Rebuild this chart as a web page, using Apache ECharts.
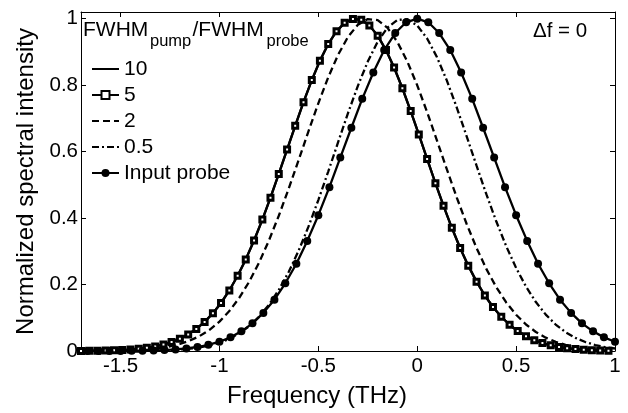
<!DOCTYPE html>
<html><head><meta charset="utf-8">
<script src="https://cdn.jsdelivr.net/npm/echarts@6/dist/echarts.min.js"></script>
<style>html,body{margin:0;padding:0;background:#fff}#c{width:628px;height:413px}</style>
</head><body><div id="c"></div>
<script>
const xTicks = [-1.5, -1, -0.5, 0, 0.5, 1];
const yTicks = [0, 0.2, 0.4, 0.6, 0.8, 1];
const legendNames = ['10', '5', '2', '0.5', 'Input probe'];

const xLine = [-1.7,-1.65,-1.6,-1.55,-1.5,-1.45,-1.4,-1.35,-1.3,-1.25,-1.2,-1.15,-1.1,-1.05,-1,
  -0.95,-0.9,-0.85,-0.8,-0.75,-0.7,-0.65,-0.6,-0.55,-0.5,-0.45,-0.4,-0.35,-0.3,-0.25,-0.2,-0.15,-0.1,-0.05,0,
  0.05,0.1,0.15,0.2,0.25,0.3,0.35,0.4,0.45,0.5,0.55,0.6,0.65,0.7,0.75,0.8,0.85,0.9,0.95,1];

const xPump5 = [-1.700,-1.658,-1.617,-1.575,-1.533,-1.492,-1.450,-1.408,-1.367,-1.325,
  -1.283,-1.242,-1.200,-1.158,-1.117,-1.075,-1.033,-0.992,-0.950,-0.908,
  -0.867,-0.825,-0.783,-0.742,-0.700,-0.658,-0.617,-0.575,-0.533,-0.492,
  -0.450,-0.408,-0.367,-0.325,-0.283,-0.242,-0.200,-0.158,-0.117,-0.075,
  -0.033,0.008,0.050,0.092,0.133,0.175,0.217,0.258,0.300,0.342,
  0.383,0.425,0.467,0.508,0.550,0.592,0.633,0.675,0.717,0.758,
  0.800,0.842,0.883,0.925,0.967];

const pump5 = [0.0003,0.0005,0.0008,0.0013,0.002,0.003,0.0044,0.0066,0.0095,0.0137,
  0.0194,0.0268,0.0369,0.05,0.0665,0.0875,0.1136,0.1444,0.1821,0.2263,
  0.2756,0.3325,0.3953,0.4613,0.5327,0.606,0.6776,0.7487,0.8151,0.8732,
  0.9234,0.9622,0.9874,0.9993,0.9965,0.9797,0.9489,0.9055,0.8529,0.7906,
  0.722,0.6515,0.5779,0.5051,0.4367,0.3707,0.3101,0.2568,0.2087,0.167,
  0.1325,0.103,0.079,0.06,0.0446,0.0327,0.0238,0.017,0.0119,0.0083,
  0.0057,0.0038,0.0025,0.0017,0.0011];

const pump10 = [0.0003,0.0005,0.0008,0.0013,0.002,0.003,0.0044,0.0066,0.0095,0.0137,
  0.0194,0.0268,0.0369,0.05,0.0665,0.0875,0.1136,0.1444,0.1821,0.2263,
  0.2756,0.3325,0.3953,0.4613,0.5327,0.606,0.6776,0.7487,0.8151,0.8732,
  0.9234,0.9622,0.9874,0.9993,0.9965,0.9797,0.9489,0.9055,0.8529,0.7906,
  0.722,0.6515,0.5779,0.5051,0.4367,0.3707,0.3101,0.2568,0.2087,0.167,
  0.1325,0.103,0.079,0.06,0.0446,0.0327,0.0238,0.017,0.0119,0.0083,
  0.0057,0.0038,0.0025,0.0017,0.0011];

const pump2 = [0.0001,0.0003,0.0005,0.0008,0.0013,0.0022,0.0036,0.0058,0.0091,0.0141,0.0212,0.0312,0.0451,0.0638,0.0884,
  0.1201,0.1597,0.2081,0.2657,0.3322,0.4069,0.4882,0.5738,0.6608,0.7453,
  0.8235,0.8914,0.9451,0.9817,0.9988,0.9955,0.972,0.9297,0.871,0.7995,
  0.7188,0.633,0.5462,0.4616,0.3822,0.31,0.2463,0.1917,0.1461,0.1091,
  0.0798,0.0572,0.0402,0.0276,0.0186,0.0123,0.0079,0.005,0.0031,0.0019];

const pump05 = [0,0,0,0.0001,0.0002,0.0003,0.0005,0.0009,0.0016,0.0026,0.0043,0.0069,0.0108,0.0166,0.0249,
  0.0367,0.0529,0.0745,0.1029,0.139,0.1838,0.2379,0.3015,0.3741,0.4542,
  0.5399,0.6283,0.7157,0.7979,0.8708,0.9304,0.9731,0.9962,0.9983,0.9793,
  0.9404,0.884,0.8134,0.7326,0.646,0.5575,0.471,0.3895,0.3153,0.2499,
  0.1938,0.1472,0.1094,0.0796,0.0567,0.0395,0.027,0.018,0.0118,0.0075];

const xProbe = [-1.667,-1.611,-1.556,-1.5,-1.444,-1.389,-1.333,-1.278,-1.222,-1.167,
  -1.111,-1.056,-1,-0.944,-0.889,-0.833,-0.778,-0.722,-0.667,-0.611,
  -0.556,-0.5,-0.444,-0.389,-0.333,-0.278,-0.222,-0.167,-0.111,-0.056,0,
  0.056,0.111,0.167,0.222,0.278,0.333,0.389,0.444,0.5,0.556,0.611,0.667,0.722,0.778,0.833,0.889,0.944,1];

const probe = [0,0.0001,0.0002,0.0003,0.0006,0.001,0.0017,0.0029,0.0048,0.0077,
  0.012,0.0185,0.0279,0.041,0.0591,0.0832,0.1147,0.1545,0.2037,0.2627,
  0.3313,0.4086,0.493,0.5819,0.6718,0.7587,0.838,0.9054,0.9568,0.989,1,
  0.989,0.9568,0.9054,0.838,0.7587,0.6718,0.5819,0.493,0.4086,0.3313,0.2627,0.2037,0.1545,0.1147,0.0832,0.0591,0.041,0.0279];

const FONT = '"Liberation Sans", Arial, Helvetica, sans-serif';
const pairs = (xs, ys) => xs.map((x, i) => [x, ys[i]]);
const black = '#000';
const lineOnly = ['10', '2', '0.5'];
const LW = 2.3;

function axisCommon(extra) {
  return Object.assign({
    type: 'value',
    axisLine: { show: true, onZero: false, lineStyle: { color: black, width: 1 } },
    splitLine: { show: false },
    axisPointer: { show: false }
  }, extra);
}

const chart = echarts.init(document.getElementById('c'), null, { renderer: 'canvas' });
chart.setOption({
  animation: false,
  backgroundColor: '#fff',
  grid: { left: 81, right: 13, top: 12, bottom: 57, containLabel: false },
  xAxis: [
    axisCommon({
      min: -1.7, max: 1, position: 'bottom',
      axisTick: { inside: true, length: 5, customValues: xTicks, lineStyle: { color: black } },
      axisLabel: { customValues: xTicks, color: black, fontSize: 20.5, fontFamily: FONT, margin: 5 },
      name: 'Frequency (THz)', nameLocation: 'middle', nameGap: 33,
      nameTextStyle: { color: black, fontSize: 24, fontFamily: FONT, padding: [0, 62, 0, 0] }
    }),
    axisCommon({
      min: -1.7, max: 1, position: 'top',
      axisTick: { inside: true, length: 5, customValues: xTicks, lineStyle: { color: black } },
      axisLabel: { show: false }
    })
  ],
  yAxis: [
    axisCommon({
      min: 0, max: 1.02, position: 'left',
      axisTick: { inside: true, length: 5, customValues: yTicks, lineStyle: { color: black } },
      axisLabel: { customValues: yTicks, color: black, fontSize: 20.5, fontFamily: FONT, margin: 3 },
      name: 'Normalized spectral intensity', nameLocation: 'middle', nameGap: 42,
      nameTextStyle: { color: black, fontSize: 24, fontFamily: FONT }
    }),
    axisCommon({
      min: 0, max: 1.02, position: 'right',
      axisTick: { inside: true, length: 5, customValues: yTicks, lineStyle: { color: black } },
      axisLabel: { show: false }
    })
  ],
  legend: {
    orient: 'vertical', left: 91, top: 58.5, itemWidth: 27, itemHeight: 10, itemGap: 5, padding: 0,
    selectedMode: false,
    data: legendNames.map(n => lineOnly.includes(n) ? { name: n, itemStyle: { opacity: 0 } } : { name: n }),
    textStyle: { color: black, fontSize: 21, fontFamily: FONT, lineHeight: 21 }
  },
  graphic: [
    { type: 'text', x: 83, y: 20.2, style: { text: 'FWHM', font: '21px ' + FONT, fill: black } },
    { type: 'text', x: 150, y: 33.3, style: { text: 'pump', font: '16.5px ' + FONT, fill: black } },
    { type: 'text', x: 192.5, y: 20.2, style: { text: '/FWHM', font: '21px ' + FONT, fill: black } },
    { type: 'text', x: 266.5, y: 33.3, style: { text: 'probe', font: '16.5px ' + FONT, fill: black } },
    { type: 'text', x: 533, y: 20.6, style: { text: 'Δf = 0', font: '20.5px ' + FONT, fill: black } }
  ],
  series: [
    { name: '10', type: 'line', data: pairs(xPump5, pump10), symbol: 'none',
      lineStyle: { color: black, width: LW }, itemStyle: { color: black }, emphasis: { disabled: true }, z: 3 },
    { name: '5', type: 'line', data: pairs(xPump5, pump5), symbol: 'rect', symbolSize: 5,
      lineStyle: { color: black, width: LW }, itemStyle: { color: '#fff', borderColor: black, borderWidth: 3 },
      emphasis: { disabled: true }, z: 4 },
    { name: '2', type: 'line', data: pairs(xLine, pump2), symbol: 'none',
      lineStyle: { color: black, width: LW, type: [7, 4] }, itemStyle: { color: black }, emphasis: { disabled: true }, z: 2 },
    { name: '0.5', type: 'line', data: pairs(xLine, pump05), symbol: 'none',
      lineStyle: { color: black, width: LW, type: [7, 3, 2, 3] }, itemStyle: { color: black }, emphasis: { disabled: true }, z: 2 },
    { name: 'Input probe', type: 'line', data: pairs(xProbe, probe), symbol: 'circle', symbolSize: 8,
      lineStyle: { color: black, width: LW }, itemStyle: { color: black }, emphasis: { disabled: true }, z: 4 }
  ]
});
</script>
</body></html>
